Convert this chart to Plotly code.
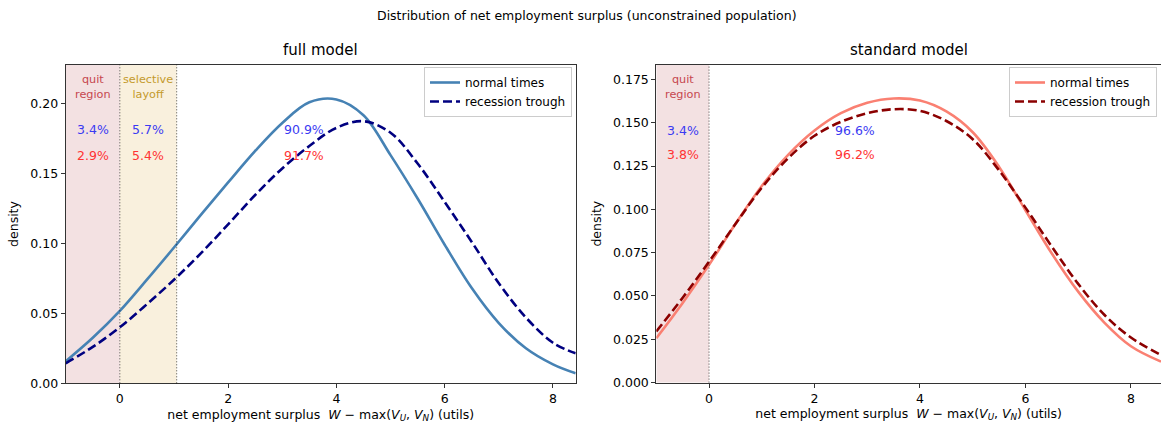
import plotly.graph_objects as go

# ---- full model: density of net employment surplus ----
full_x_normal = [-1.0, -0.5, 0.0, 0.5, 1.0, 1.5, 2.0, 2.5, 3.0, 3.5, 4.0, 4.5,
                 5.0, 5.5, 6.0, 6.5, 7.0, 7.5, 8.0, 8.42]
full_y_normal = [0.0157, 0.0325, 0.0517, 0.074, 0.097, 0.1205, 0.1435, 0.166, 0.186,
                 0.2008, 0.2028, 0.1915, 0.163, 0.132, 0.099, 0.068, 0.043, 0.025,
                 0.0135, 0.0071]

full_x_recession = [-1.0, -0.5, 0.0, 0.5, 1.0, 1.5, 2.0, 2.5, 3.0, 3.5, 4.0, 4.5,
                    5.0, 5.5, 6.0, 6.5, 7.0, 7.5, 8.0, 8.42]
full_y_recession = [0.0143, 0.026, 0.040, 0.0565, 0.074, 0.093, 0.1135, 0.1345, 0.1535,
                    0.1695, 0.1825, 0.1872, 0.179, 0.157, 0.1295, 0.101, 0.0715, 0.047,
                    0.029, 0.0214]

# ---- standard model ----
std_x_normal = [-1.0, -0.5, 0.0, 0.5, 1.0, 1.5, 2.0, 2.5, 3.0, 3.5, 4.0, 4.5,
                5.0, 5.5, 6.0, 6.5, 7.0, 7.5, 8.0, 8.57]
std_y_normal = [0.0256, 0.046, 0.068, 0.0915, 0.1135, 0.1315, 0.1455, 0.1555, 0.1615,
                0.164, 0.1628, 0.1565, 0.1445, 0.1245, 0.0995, 0.0745, 0.0525, 0.0345,
                0.021, 0.0121]

std_x_recession = [-1.0, -0.5, 0.0, 0.5, 1.0, 1.5, 2.0, 2.5, 3.0, 3.5, 4.0, 4.5,
                   5.0, 5.5, 6.0, 6.5, 7.0, 7.5, 8.0, 8.57]
std_y_recession = [0.0295, 0.049, 0.0698, 0.0915, 0.1125, 0.1295, 0.1425, 0.1505, 0.1555,
                   0.1578, 0.1568, 0.151, 0.1405, 0.1225, 0.101, 0.0785, 0.057, 0.039,
                   0.026, 0.0159]

# region boundaries and shares of the population in each region
full_quit_bounds = [-1.0, 0.0]
full_layoff_bounds = [0.0, 1.05]
std_quit_bounds = [-1.0, 0.0]

full_share_normal = ["3.4%", "5.7%", "90.9%"]
full_share_recession = ["2.9%", "5.4%", "91.7%"]
full_share_x = [-0.5, 0.525, 3.4]

std_share_normal = ["3.4%", "96.6%"]
std_share_recession = ["3.8%", "96.2%"]
std_share_x = [-0.5, 2.77]

full_yticks = [0.00, 0.05, 0.10, 0.15, 0.20]
std_yticks = [0.000, 0.025, 0.050, 0.075, 0.100, 0.125, 0.150, 0.175]
xticks = [0, 2, 4, 6, 8]

FONT = "DejaVu Sans, Verdana, sans-serif"
BLUE_TXT = "#3b3bf2"
RED_TXT = "#ff3333"
QUIT_TXT = "#c6474f"
LAYOFF_TXT = "#c49a2c"

fig = go.Figure()

# curves
fig.add_trace(go.Scatter(x=full_x_normal, y=full_y_normal, mode="lines",
                         line=dict(color="#4682b4", width=2.6, shape="spline", smoothing=1.0),
                         name="normal times", xaxis="x", yaxis="y", legend="legend"))
fig.add_trace(go.Scatter(x=full_x_recession, y=full_y_recession, mode="lines",
                         line=dict(color="#000080", width=2.6, dash="9px,4px",
                                   shape="spline", smoothing=1.0),
                         name="recession trough", xaxis="x", yaxis="y", legend="legend"))
fig.add_trace(go.Scatter(x=std_x_normal, y=std_y_normal, mode="lines",
                         line=dict(color="#fa8072", width=2.6, shape="spline", smoothing=1.0),
                         name="normal times", xaxis="x2", yaxis="y2", legend="legend2"))
fig.add_trace(go.Scatter(x=std_x_recession, y=std_y_recession, mode="lines",
                         line=dict(color="#8b0000", width=2.6, dash="9px,4px",
                                   shape="spline", smoothing=1.0),
                         name="recession trough", xaxis="x2", yaxis="y2", legend="legend2"))

# shaded regions and boundary lines
shapes = [
    dict(type="rect", xref="x", yref="y domain", x0=full_quit_bounds[0], x1=full_quit_bounds[1],
         y0=0, y1=1, fillcolor="#f3e1e2", line=dict(width=0), layer="below"),
    dict(type="rect", xref="x", yref="y domain", x0=full_layoff_bounds[0], x1=full_layoff_bounds[1],
         y0=0, y1=1, fillcolor="#f9f0dd", line=dict(width=0), layer="below"),
    dict(type="rect", xref="x2", yref="y2 domain", x0=std_quit_bounds[0], x1=std_quit_bounds[1],
         y0=0, y1=1, fillcolor="#f3e1e2", line=dict(width=0), layer="below"),
]
for xv, xr in [(full_quit_bounds[1], "x"), (full_layoff_bounds[1], "x"), (std_quit_bounds[1], "x2")]:
    yr = "y domain" if xr == "x" else "y2 domain"
    shapes.append(dict(type="line", xref=xr, yref=yr, x0=xv, x1=xv, y0=0, y1=1,
                       line=dict(color="rgba(0,0,0,0.7)", width=1, dash="1px,2px")))

annotations = []


def txt(x, y, s, color, size, xref, yref):
    annotations.append(dict(x=x, y=y, xref=xref, yref=yref, text=s, showarrow=False,
                            font=dict(family=FONT, size=size, color=color),
                            xanchor="center", yanchor="middle"))


# region labels
txt(-0.5, 0.2115, "quit<br>region", QUIT_TXT, 11.25, "x", "y")
txt(0.525, 0.2115, "selective<br>layoff", LAYOFF_TXT, 11.25, "x", "y")
txt(-0.5, 0.1707, "quit<br>region", QUIT_TXT, 11.25, "x2", "y2")

# population shares
for xv, a, b in zip(full_share_x, full_share_normal, full_share_recession):
    txt(xv, 0.181, a, BLUE_TXT, 12.5, "x", "y")
    txt(xv, 0.163, b, RED_TXT, 12.5, "x", "y")
for xv, a, b in zip(std_share_x, std_share_normal, std_share_recession):
    txt(xv, 0.1458, a, BLUE_TXT, 12.5, "x2", "y2")
    txt(xv, 0.1314, b, RED_TXT, 12.5, "x2", "y2")

# titles
annotations.append(dict(x=0.5056, y=1 - 16 / 429, xref="paper", yref="paper",
                        text="Distribution of net employment surplus (unconstrained population)",
                        showarrow=False, font=dict(family=FONT, size=12.5, color="black"),
                        xanchor="center", yanchor="middle"))
annotations.append(dict(x=320.7 / 1161, y=1 - 50 / 429, xref="paper", yref="paper",
                        text="full model", showarrow=False,
                        font=dict(family=FONT, size=15, color="black"),
                        xanchor="center", yanchor="middle"))
annotations.append(dict(x=909 / 1161, y=1 - 50 / 429, xref="paper", yref="paper",
                        text="standard model", showarrow=False,
                        font=dict(family=FONT, size=15, color="black"),
                        xanchor="center", yanchor="middle"))

xlabel = ("net employment surplus \u00a0<i>W</i> \u2212 max(<i>V</i><sub><i>U</i></sub>, "
          "<i>V</i><sub><i>N</i></sub>) (utils)")

axis_common = dict(showline=True, mirror=True, linecolor="#333333", linewidth=1,
                   ticks="outside", ticklen=4, tickwidth=1, tickcolor="#333333",
                   showgrid=False, zeroline=False, automargin=False,
                   tickfont=dict(family=FONT, size=12.5, color="black"))

fig.update_layout(
    width=1161, height=429,
    margin=dict(l=0, r=0, t=0, b=0, autoexpand=False),
    paper_bgcolor="white", plot_bgcolor="white",
    shapes=shapes, annotations=annotations,
    showlegend=True,
    xaxis=dict(domain=[65.7 / 1161, 575.7 / 1161], range=[-1.0, 8.42], tickvals=xticks,
               anchor="y",
               title=dict(text=xlabel, font=dict(family=FONT, size=12.5, color="black"),
                          standoff=4),
               **axis_common),
    yaxis=dict(domain=[1 - 383.3 / 429, 1 - 64.7 / 429], range=[0, 0.2276],
               tickvals=full_yticks, tickformat=".2f", anchor="x",
               title=dict(text="density", font=dict(family=FONT, size=12.5, color="black"),
                          standoff=8),
               **axis_common),
    xaxis2=dict(domain=[656.3 / 1161, 1.0], range=[-1.0, 8.57], tickvals=xticks,
                anchor="y2",
                title=dict(text=xlabel, font=dict(family=FONT, size=12.5, color="black"),
                           standoff=4),
                **axis_common),
    yaxis2=dict(domain=[1 - 382.6 / 429, 1 - 64.7 / 429], range=[0, 0.1835],
                tickvals=std_yticks, tickformat=".3f", anchor="x2",
                title=dict(text="density", font=dict(family=FONT, size=12.5, color="black"),
                           standoff=8),
                **axis_common),
    legend=dict(x=572 / 1161, y=1 - 67 / 429, xanchor="right", yanchor="top",
                xref="paper", yref="paper",
                bgcolor="rgba(255,255,255,0.85)", bordercolor="#cccccc", borderwidth=1,
                font=dict(family=FONT, size=12, color="black"),
                itemwidth=30, tracegroupgap=0),
    legend2=dict(x=1157 / 1161, y=1 - 67 / 429, xanchor="right", yanchor="top",
                 xref="paper", yref="paper",
                 bgcolor="rgba(255,255,255,0.85)", bordercolor="#cccccc", borderwidth=1,
                 font=dict(family=FONT, size=12, color="black"),
                 itemwidth=30, tracegroupgap=0),
)

fig.write_html("out.html")
